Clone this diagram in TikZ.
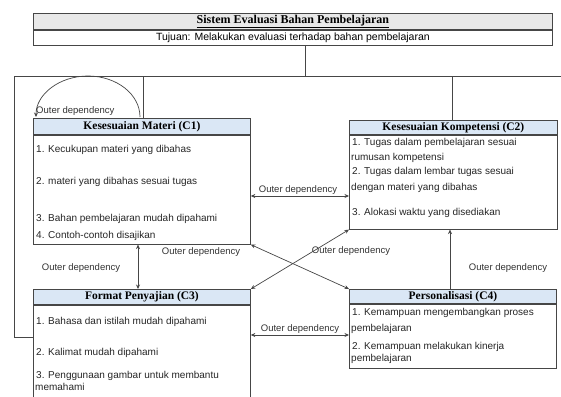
\documentclass[tikz,border=0pt]{standalone}
\usepackage{fontspec}
\setmainfont{Liberation Sans}
\newfontfamily\hdfont{Liberation Serif}
\usetikzlibrary{arrows.meta}

\definecolor{headblue}{RGB}{218,231,245}
\definecolor{edge}{RGB}{70,70,70}

\tikzset{
  frame/.style={draw=edge, line width=0.8pt, inner sep=0pt, anchor=north west},
  titlebar/.style={frame, fill=gray!18, font=\hdfont\bfseries\fontsize{12}{14}\selectfont},
  subbar/.style={frame, fill=white, anchor=north, font=\fontsize{10.5}{12}\selectfont},
  classhead/.style={frame, fill=headblue, font=\hdfont\bfseries\fontsize{11.5}{13}\selectfont},
  classbody/.style={frame, fill=white, anchor=north},
  item/.style={anchor=west, inner sep=0pt, text=black!85, font=\fontsize{10}{12}\selectfont},
  deplabel/.style={inner sep=0pt, text=black!80, font=\fontsize{9.5}{11}\selectfont},
  wire/.style={draw=edge, line width=0.7pt},
  conn/.style={draw=edge, line width=0.7pt, >={Stealth[length=4.5pt,width=4pt]}}
}

\begin{document}
\begin{tikzpicture}[x=1pt,y=-1pt]
\useasboundingbox (0,0) rectangle (561,396);
\fill[white] (0,0) rectangle (561,396);

% system header
\node[titlebar, minimum width=519, minimum height=16] (title) at (33,13)
  {\underline{Sistem Evaluasi Bahan Pembelajaran}};
\node[subbar, minimum width=519, minimum height=15] (sub) at (title.south)
  {Tujuan: Melakukan evaluasi terhadap bahan pembelajaran};

% tree wiring
\coordinate (busL) at (14,76);
\coordinate (busR) at (561,76);
\coordinate (busM) at (305,76);
\coordinate (busA) at (143,76);
\coordinate (busB) at (452,76);
\coordinate (leftdown) at (14,337);

% criteria C1
\node[classhead, minimum width=217, minimum height=16] (c1h) at (33,118) {Kesesuaian Materi (C1)};
\node[classbody, minimum width=217, minimum height=109] (c1b) at (c1h.south) {};
\node[item] (c1i1) at (36,150) {1. Kecukupan materi yang dibahas};
\node[item] (c1i2) at (36,182) {2. materi yang dibahas sesuai tugas};
\node[item] (c1i3) at (36,219) {3. Bahan pembelajaran mudah dipahami};
\node[item] (c1i4) at (36,236) {4. Contoh-contoh disajikan};

% criteria C2
\node[classhead, minimum width=208, minimum height=14] (c2h) at (349,120) {Kesesuaian Kompetensi (C2)};
\node[classbody, minimum width=208, minimum height=94] (c2b) at (c2h.south) {};
\node[item] (c2i1) at (352,143) {1. Tugas dalam pembelajaran sesuai};
\node[item] (c2i2) at (351,158) {rumusan kompetensi};
\node[item] (c2i3) at (352,172) {2. Tugas dalam lembar tugas sesuai};
\node[item] (c2i4) at (351,188) {dengan materi yang dibahas};
\node[item] (c2i5) at (352,213) {3. Alokasi waktu yang disediakan};

% criteria C3
\node[classhead, minimum width=217, minimum height=15] (c3h) at (33,289) {Format Penyajian (C3)};
\node[classbody, minimum width=217, minimum height=112] (c3b) at (c3h.south) {};
\node[item] (c3i1) at (36,322) {1. Bahasa dan istilah mudah dipahami};
\node[item] (c3i2) at (36,353) {2. Kalimat mudah dipahami};
\node[item] (c3i3) at (36,376) {3. Penggunaan gambar untuk membantu};
\node[item] (c3i4) at (35,387) {memahami};

% criteria C4
\node[classhead, minimum width=207, minimum height=14] (c4h) at (349,289) {Personalisasi (C4)};
\node[classbody, minimum width=207, minimum height=64] (c4b) at (c4h.south) {};
\node[item] (c4i1) at (352,313) {1. Kemampuan mengembangkan proses};
\node[item] (c4i2) at (351,329) {pembelajaran};
\node[item] (c4i3) at (352,347) {2. Kemampuan melakukan kinerja};
\node[item] (c4i4) at (351,359) {pembelajaran};

% hierarchy lines
\draw[wire] (sub.south -| busM) -- (busM);
\draw[wire] (busL) -- (busR);
\draw[wire] (busA) -- (c1h.north -| busA);
\draw[wire] (busB) -- (c2h.north -| busB);
\draw[wire] (busL) -- (leftdown) -- (c3b.west |- leftdown);

% self dependency of C1: a round arch over the box corner
\draw[conn, <-] ([xshift=3pt,yshift=1pt]c1h.north west)
  arc[start angle=180, end angle=360, x radius=52, y radius=41];
\node[deplabel, anchor=west] (l0) at (36,111) {Outer dependency};

% dependencies between criteria
\draw[conn, <->] (c1b.east |- 0,196) -- (c2b.west |- 0,196);
\node[deplabel] (l1) at (298,190) {Outer dependency};

\draw[conn, <->] (c1b.south -| 138,0) -- (c3h.north -| 138,0);
\node[deplabel] (l2) at (81,268) {Outer dependency};

\draw[conn, <->] (c1b.south east) -- (c4h.north west);
\node[deplabel] (l3) at (201,252) {Outer dependency};

\draw[conn, <->] (c3h.north east) -- (c2b.south west);
\node[deplabel] (l4) at (351,251) {Outer dependency};

\draw[conn, <->] (c3b.east |- 0,335) -- (c4b.west |- 0,335);
\node[deplabel] (l5) at (300,329) {Outer dependency};

\draw[conn, ->] (c4h.north -| 450,0) -- (c2b.south -| 450,0);
\node[deplabel] (l6) at (508,268) {Outer dependency};

\end{tikzpicture}
\end{document}
